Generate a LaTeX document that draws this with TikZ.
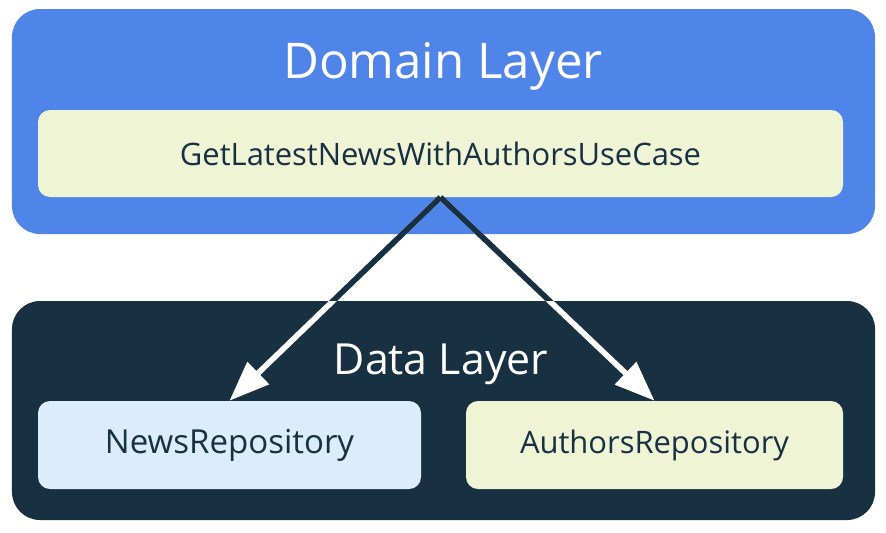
\documentclass[tikz,border=0pt]{standalone}
\usepackage{fontspec}
\setmainfont{Open Sans}
\usepackage{tikz}
\usetikzlibrary{
  positioning,
  arrows.meta,
  calc,
  }
\definecolor{domainblue}{HTML}{4F84E8}
\definecolor{datanavy}{HTML}{173042}
\definecolor{casegreen}{HTML}{EFF4D5}
\definecolor{repoblue}{HTML}{DBEDFC}

\begin{document}
\begin{tikzpicture}[
    layerbox/.style={rounded corners=0.7cm, minimum width=21.575cm},
    itembox/.style={rounded corners=0.3cm, minimum height=2.2cm, text=datanavy,
        font=\fontsize{22.5}{27}\selectfont},
    layertitle/.style={text=white, inner sep=0pt},
    dep/.style={line width=4pt, white, -{Triangle[length=10mm, width=7.5mm]}},
    ]
                \useasboundingbox (0,0) rectangle (22.15,-13.3);
                \node[layerbox, fill=domainblue, minimum height=5.625cm] (domain) at (11.0875,-3.0375) {};
                \node[layerbox, fill=datanavy, minimum height=5.475cm] (data) at (11.0875,-10.2625) {};
                \node[layertitle, font=\fontsize{35}{42}\selectfont] (domaintitle) at (11.075,-1.66) {Domain Layer};
                \node[layertitle, font=\fontsize{30.5}{36}\selectfont] (datatitle) at (11.025,-9.1) {Data Layer};
                \node[itembox, fill=casegreen, minimum width=20.125cm, minimum height=2.175cm, font=\fontsize{22}{26}\selectfont] (usecase) at (11.0125,-3.8375) {GetLatestNewsWithAuthorsUseCase};
                \node[itembox, fill=repoblue, minimum width=9.575cm, font=\fontsize{23.5}{28}\selectfont] (newsrepo) at (5.7375,-11.125) {\raisebox{-4pt}{NewsRepository}};
                \node[itembox, fill=casegreen, minimum width=9.425cm, font=\fontsize{22}{26}\selectfont] (authorsrepo) at (16.3625,-11.125) {\raisebox{-4pt}{AuthorsRepository}};

                \draw[dep] (usecase.south) -- (newsrepo.north);
                \draw[dep] (usecase.south) -- (authorsrepo.north);
                \begin{scope}
                    \clip ($(domain.north west)+(-1,1)$) rectangle (data.north east);
                    \draw[line width=4pt, datanavy] (usecase.south) -- (newsrepo.north);
                    \draw[line width=4pt, datanavy] (usecase.south) -- (authorsrepo.north);
                \end{scope}
\end{tikzpicture}
\end{document}
